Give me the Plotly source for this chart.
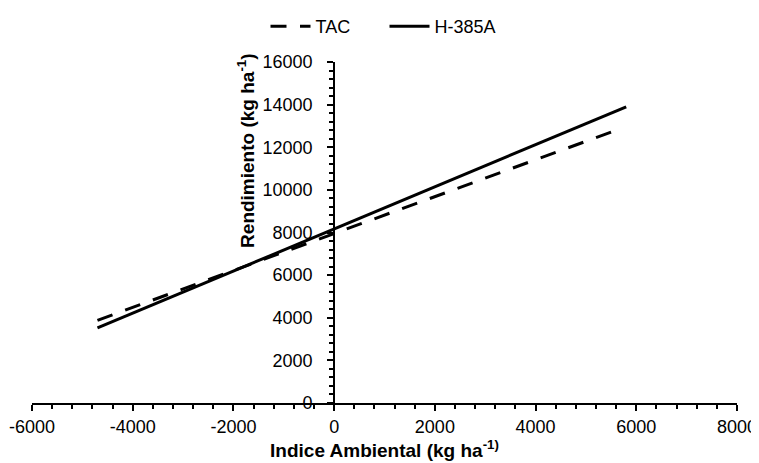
import plotly.graph_objects as go

# Data (regression lines, endpoints)
tac_x = [-4700, 5600]
tac_y = [3880, 12800]
h385_x = [-4700, 5800]
h385_y = [3520, 13900]

x_ticks = [-6000, -4000, -2000, 0, 2000, 4000, 6000, 8000]
y_ticks = [0, 2000, 4000, 6000, 8000, 10000, 12000, 14000, 16000]

FONT = "Liberation Sans, Arial, Helvetica, sans-serif"

fig = go.Figure()
fig.add_trace(go.Scatter(x=tac_x, y=tac_y, mode="lines", name="TAC",
                         line=dict(color="black", width=3, dash="16px,13.5px")))
fig.add_trace(go.Scatter(x=h385_x, y=h385_y, mode="lines", name="H-385A",
                         line=dict(color="black", width=3)))

xmin, xmax = -6000, 8000
ypos = (0 - xmin) / (xmax - xmin)

# page body adds an 8px offset, so the figure is 8px smaller
fig.update_layout(
    width=751, height=455,
    margin=dict(l=24, r=22, t=54, b=60, autoexpand=False),
    paper_bgcolor="white", plot_bgcolor="white",
    font=dict(family=FONT, size=18, color="black"),
    showlegend=True,
    legend=dict(orientation="h", x=0.5, xanchor="center", y=1.0, yanchor="top",
                yref="container", font=dict(size=18), itemwidth=40,
                entrywidth=64, entrywidthmode="pixels",
                traceorder="normal"),
    xaxis=dict(range=[xmin, xmax], tickvals=x_ticks, ticktext=[str(v) for v in x_ticks],
               automargin=False,
               showgrid=False, zeroline=False, showline=True, linecolor="black", linewidth=2,
               ticks="outside", ticklen=6, tickwidth=2, tickcolor="black",
               minor=dict(dtick=400, ticks="outside", ticklen=4, tickwidth=1.5, tickcolor="black"),
               title=dict(text="<b>Indice Ambiental (kg ha<sup>-1)</sup></b>", font=dict(size=19), standoff=2)),
    yaxis=dict(range=[0, 16000], tickvals=y_ticks, ticktext=[str(v) for v in y_ticks],
               anchor="free", position=ypos, automargin=False, ticklabelstandoff=11,
               showgrid=False, zeroline=False, showline=True, linecolor="black", linewidth=2,
               ticks="outside", ticklen=6, tickwidth=2, tickcolor="black",
               minor=dict(dtick=400, ticks="outside", ticklen=4, tickwidth=1.5, tickcolor="black")),
    annotations=[dict(text="<b>Rendimiento (kg ha<sup>-1</sup>)</b>", textangle=-90,
                      xref="paper", yref="paper", x=ypos, xshift=-88, y=1.03, yanchor="top",
                      xanchor="center", showarrow=False, font=dict(size=19, family=FONT))],
)

fig.write_html("out.html")
